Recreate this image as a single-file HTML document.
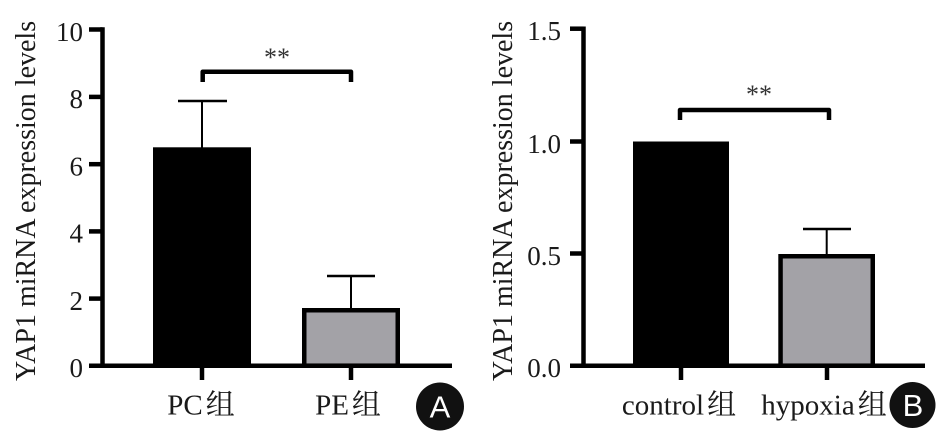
<!DOCTYPE html>
<html>
<head>
<meta charset="utf-8">
<style>
  html, body { margin: 0; padding: 0; background: #fff; }
  body { width: 945px; height: 435px; overflow: hidden; }
  svg { display: block; }
  .t { font-family: "Liberation Serif", "Noto Serif CJK SC", serif; fill: #1a1a1a; }
  .s { font-family: "Liberation Sans", sans-serif; fill: #fff; }
</style>
</head>
<body>
<svg width="945" height="435" viewBox="0 0 945 435" xmlns="http://www.w3.org/2000/svg">
  <rect width="945" height="435" fill="#fff"/>

  <!-- ================= Panel A ================= -->
  <rect x="153" y="147.3" width="98" height="218.4" fill="#000"/>
  <rect x="304.25" y="310.25" width="93.5" height="55.45" fill="#a3a2a7" stroke="#000" stroke-width="4.5"/>
  <line x1="202" y1="148" x2="202" y2="101" stroke="#000" stroke-width="2"/>
  <line x1="178" y1="101" x2="227" y2="101" stroke="#000" stroke-width="2.5"/>
  <line x1="351" y1="308" x2="351" y2="276" stroke="#000" stroke-width="2"/>
  <line x1="327" y1="276" x2="375" y2="276" stroke="#000" stroke-width="2.5"/>
  <g stroke="#000" stroke-width="4.5" fill="none">
    <line x1="102.5" y1="27.3" x2="102.5" y2="368"/>
    <line x1="89" y1="365.7" x2="452" y2="365.7"/>
    <line x1="89" y1="29.5" x2="102.5" y2="29.5"/>
    <line x1="89" y1="96.9" x2="102.5" y2="96.9"/>
    <line x1="89" y1="164.2" x2="102.5" y2="164.2"/>
    <line x1="89" y1="231.4" x2="102.5" y2="231.4"/>
    <line x1="89" y1="298.6" x2="102.5" y2="298.6"/>
    <line x1="202" y1="365.7" x2="202" y2="380"/>
    <line x1="351" y1="365.7" x2="351" y2="380"/>
    <path d="M202.7 82 V71.7 H351 V82" stroke-linejoin="round"/>
  </g>
  <g class="t" font-size="27" text-anchor="end">
    <text x="83" y="40.8">10</text>
    <text x="83" y="108.2">8</text>
    <text x="83" y="175.5">6</text>
    <text x="83" y="242.7">4</text>
    <text x="83" y="309.9">2</text>
    <text x="83" y="377">0</text>
  </g>
  <text class="t" font-size="26" x="277" y="66" text-anchor="middle" style="fill:#333">**</text>
  <text class="t" font-size="28" transform="translate(35,381) rotate(-90)">YAP1 miRNA expression levels</text>
  <text class="t" font-size="29" x="201" y="414.5" text-anchor="middle">PC<tspan dx="3">组</tspan></text>
  <text class="t" font-size="29" x="348" y="414.5" text-anchor="middle">PE<tspan dx="3">组</tspan></text>
  <circle cx="440" cy="406.5" r="24" fill="#111"/>
  <text class="s" font-size="31" x="440" y="417.5" text-anchor="middle">A</text>

  <!-- ================= Panel B ================= -->
  <rect x="633" y="141.5" width="96" height="224.2" fill="#000"/>
  <rect x="780.55" y="256.25" width="92.2" height="109.45" fill="#a3a2a7" stroke="#000" stroke-width="4.5"/>
  <line x1="826.7" y1="255" x2="826.7" y2="229" stroke="#000" stroke-width="2"/>
  <line x1="803" y1="229" x2="851" y2="229" stroke="#000" stroke-width="2.5"/>
  <g stroke="#000" stroke-width="4.5" fill="none">
    <line x1="583.5" y1="26.5" x2="583.5" y2="368"/>
    <line x1="570" y1="365.7" x2="925" y2="365.7"/>
    <line x1="570" y1="28.7" x2="583.5" y2="28.7"/>
    <line x1="570" y1="141.5" x2="583.5" y2="141.5"/>
    <line x1="570" y1="253.5" x2="583.5" y2="253.5"/>
    <line x1="681" y1="365.7" x2="681" y2="380"/>
    <line x1="827" y1="365.7" x2="827" y2="380"/>
    <path d="M680 120 V110 H829 V120" stroke-linejoin="round"/>
  </g>
  <g class="t" font-size="27" text-anchor="end">
    <text x="561" y="40">1.5</text>
    <text x="561" y="152.8">1.0</text>
    <text x="561" y="264.8">0.5</text>
    <text x="561" y="377">0.0</text>
  </g>
  <text class="t" font-size="26" x="759" y="103" text-anchor="middle" style="fill:#333">**</text>
  <text class="t" font-size="28" transform="translate(512,381) rotate(-90)">YAP1 miRNA expression levels</text>
  <text class="t" font-size="29" x="679" y="414.5" text-anchor="middle">control<tspan dx="3">组</tspan></text>
  <text class="t" font-size="29" x="824" y="414.5" text-anchor="middle">hypoxia<tspan dx="3">组</tspan></text>
  <circle cx="912.5" cy="405" r="23" fill="#111"/>
  <text class="s" font-size="31" x="913" y="416" text-anchor="middle">B</text>
</svg>
</body>
</html>
